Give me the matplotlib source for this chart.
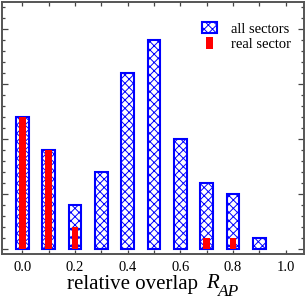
import matplotlib
matplotlib.use("Agg")
import matplotlib.pyplot as plt
from matplotlib.patches import Rectangle
from matplotlib.legend_handler import HandlerPatch
from matplotlib.ticker import MultipleLocator

# histogram of relative overlap R_AP
overlap = [0.0, 0.1, 0.2, 0.3, 0.4, 0.5, 0.6, 0.7, 0.8, 0.9, 1.0]
all_sectors = [12, 9, 4, 7, 16, 19, 10, 6, 5, 1, 0]
real_sector = [12, 9, 2, 0, 0, 0, 0, 1, 1, 0, 0]

plt.rcParams["font.family"] = ["Liberation Serif", "DejaVu Serif"]
plt.rcParams["hatch.linewidth"] = 0.7
plt.rcParams["hatch.color"] = "blue"


class NarrowHandler(HandlerPatch):
    """Legend key that is narrower than the hatched one."""
    def create_artists(self, legend, orig_handle, xdescent, ydescent,
                       width, height, fontsize, trans):
        w = width * 0.45
        p = Rectangle((-xdescent + (width - w) / 2, -ydescent), w, height,
                      facecolor="red", edgecolor="none", transform=trans)
        return [p]


# empty bins are not drawn
xa = [x for x, v in zip(overlap, all_sectors) if v > 0]
va = [v for v in all_sectors if v > 0]
xr = [x for x, v in zip(overlap, real_sector) if v > 0]
vr = [v for v in real_sector if v > 0]

fig = plt.figure(figsize=(3.08, 3.0), dpi=100)
ax = fig.add_axes([0.0075, 0.152, 0.978, 0.842])

ax.bar(xa, va, width=0.048, facecolor="white",
       edgecolor="blue", linewidth=1.5, hatch="xxxx", zorder=2,
       label="all sectors")
ax.bar(xr, vr, width=0.026, color="red", linewidth=0,
       zorder=3, label="real sector")

ax.set_xlim(-0.076, 1.068)
ax.set_ylim(-0.45, 22.5)

ax.xaxis.set_major_locator(MultipleLocator(0.2))
ax.xaxis.set_minor_locator(MultipleLocator(0.1))
ax.yaxis.set_major_locator(MultipleLocator(5))
ax.yaxis.set_minor_locator(MultipleLocator(1))
ax.tick_params(axis="both", which="both", direction="in",
               top=True, right=True, width=0.9, color="#444444")
ax.tick_params(axis="x", which="both", length=3.2, labelsize=10.5, pad=5)
ax.tick_params(axis="y", which="major", length=4.0, labelleft=False)
ax.tick_params(axis="y", which="minor", length=2.0)
ax.xaxis.set_major_formatter(plt.FuncFormatter(lambda v, p: f"{v:.1f}"))

for s in ax.spines.values():
    s.set_linewidth(1.4)
    s.set_color("#555555")

# axis title, with a large lowered subscript as in the original
fig.text(67 / 308, 1 - 288.5 / 300, "relative overlap", fontsize=15,
         ha="left", va="baseline")
fig.text(206 / 308, 1 - 288.5 / 300, "R", fontsize=15, style="italic",
         ha="left", va="baseline")
fig.text(218 / 308, 1 - 295.5 / 300, "AP", fontsize=12.5, style="italic",
         ha="left", va="baseline")

h, l = ax.get_legend_handles_labels()
ax.legend(h, l, loc="upper left", bbox_to_anchor=(0.664, 0.92),
          frameon=False, fontsize=10.5, borderpad=0, borderaxespad=0,
          handlelength=1.03, handleheight=0.8, handletextpad=0.95,
          labelspacing=0.12,
          handler_map={h[1]: NarrowHandler()})

fig.savefig("out.png", dpi=100)
